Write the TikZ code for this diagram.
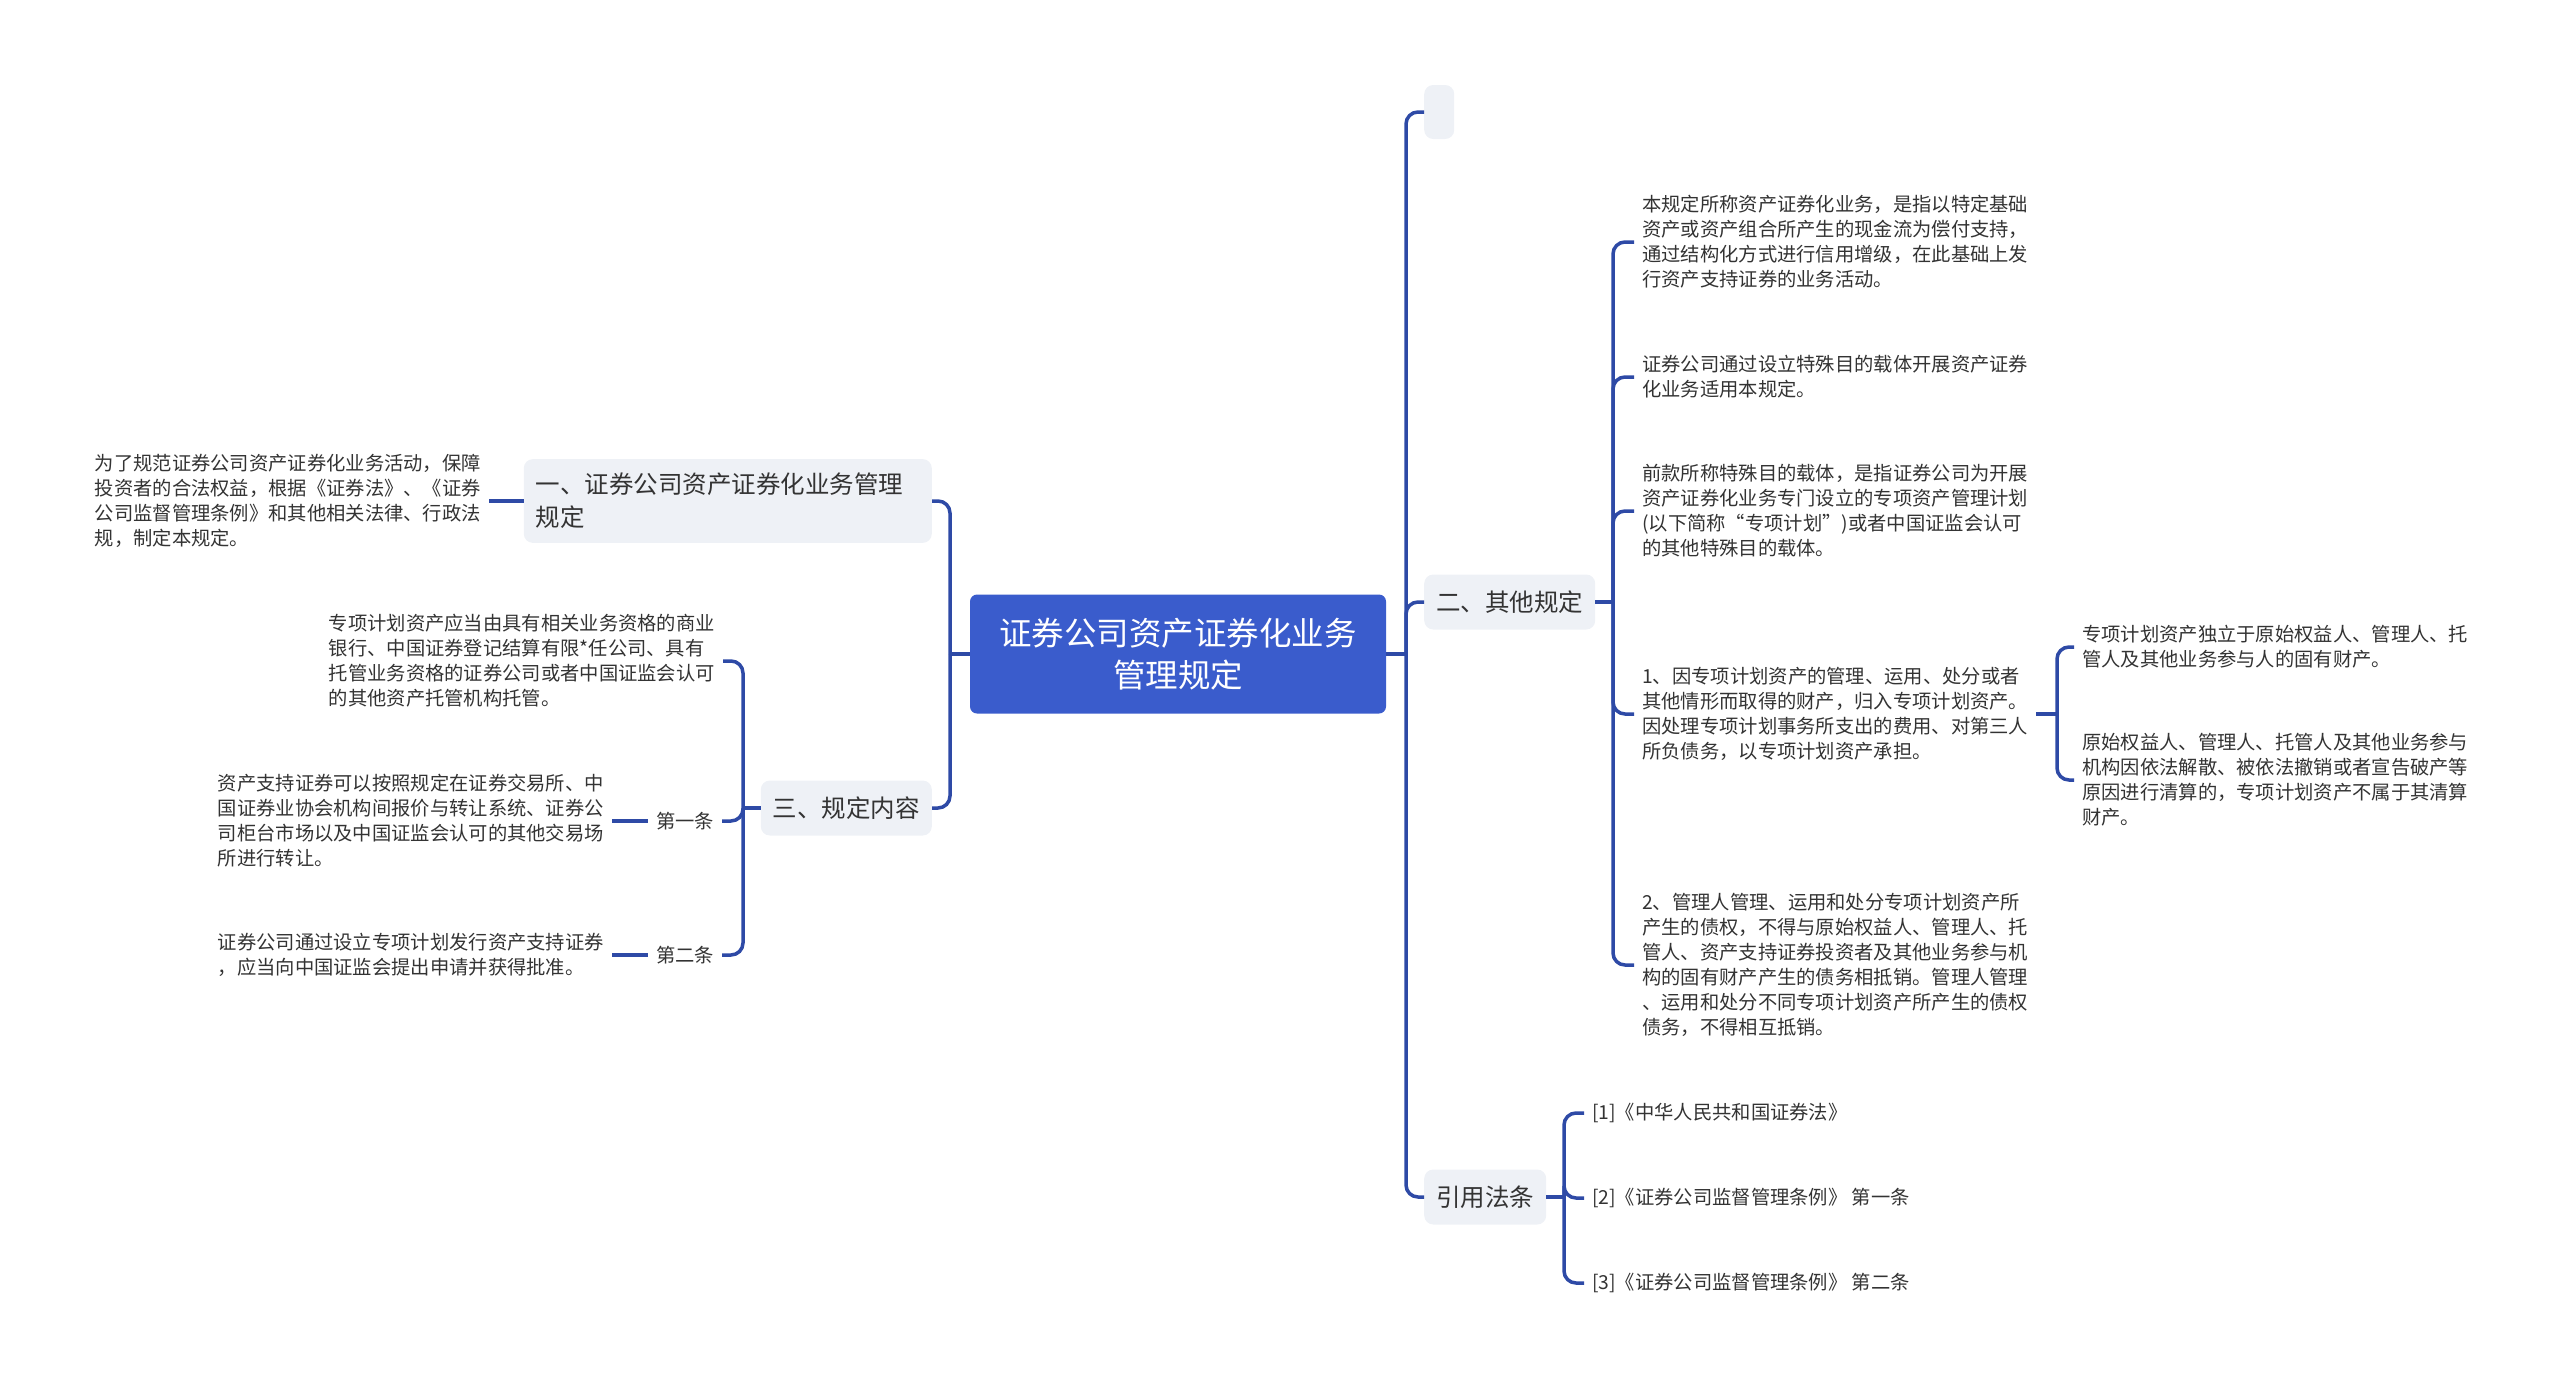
\documentclass[tikz,border=0pt]{standalone}
\usepackage{fontspec}
\setmainfont{Noto Sans CJK SC}
\definecolor{rootblue}{RGB}{58,92,204}
\definecolor{linkblue}{RGB}{46,74,166}
\definecolor{topicgrey}{RGB}{238,241,246}
\definecolor{inkgrey}{RGB}{51,51,51}

\begin{document}
\begin{tikzpicture}[x=1pt,y=-1pt,
	root/.style={fill=rootblue,text=white,rounded corners=7pt,align=center,minimum width=416pt,minimum height=119pt,font=\fontsize{32.5}{42}\selectfont},
	topic/.style={fill=topicgrey,text=inkgrey,rounded corners=9pt,align=left,inner xsep=12pt,minimum height=55pt,font=\fontsize{24.5}{33}\selectfont},
	leaf/.style={text=inkgrey,align=left,inner xsep=8pt,inner ysep=3pt,font=\fontsize{19.3}{25}\selectfont},
	link/.style={draw=linkblue,line width=3.5pt,rounded corners=12pt}]
	\useasboundingbox (0,0) rectangle (2560,1387);
	\node[root] (root) at (1178,654) {证券公司资产证券化业务\\管理规定};

	\node[topic,anchor=east,text width=384pt,inner ysep=14pt] (t1) at (932,501) {一、证券公司资产证券化业务管理\\规定};
	\node[leaf,anchor=east] (l1) at (489,501) {为了规范证券公司资产证券化业务活动，保障\\投资者的合法权益，根据《证券法》、《证券\\公司监督管理条例》和其他相关法律、行政法\\规，制定本规定。};
	\node[topic,anchor=east] (t3) at (932,808) {三、规定内容};
	\node[leaf,anchor=east] (a1) at (723,661) {专项计划资产应当由具有相关业务资格的商业\\银行、中国证券登记结算有限*任公司、具有\\托管业务资格的证券公司或者中国证监会认可\\的其他资产托管机构托管。};
	\node[leaf] (k1) at (685,821) {第一条};
	\node[leaf,anchor=east] (a2) at (612,821) {资产支持证券可以按照规定在证券交易所、中\\国证券业协会机构间报价与转让系统、证券公\\司柜台市场以及中国证监会认可的其他交易场\\所进行转让。};
	\node[leaf] (k2) at (685,955) {第二条};
	\node[leaf,anchor=east] (a3) at (612,955) {证券公司通过设立专项计划发行资产支持证券\\，应当向中国证监会提出申请并获得批准。};

	\node[topic,anchor=west,minimum width=30pt,inner xsep=0pt,minimum height=54pt] (t0) at (1424,112) {};
	\node[topic,anchor=west] (t2) at (1424,602) {二、其他规定};
	\node[topic,anchor=west] (t4) at (1424,1197) {引用法条};
	\node[leaf,anchor=west] (c1) at (1634,242) {本规定所称资产证券化业务，是指以特定基础\\资产或资产组合所产生的现金流为偿付支持，\\通过结构化方式进行信用增级，在此基础上发\\行资产支持证券的业务活动。};
	\node[leaf,anchor=west] (c2) at (1634,377) {证券公司通过设立特殊目的载体开展资产证券\\化业务适用本规定。};
	\node[leaf,anchor=west] (c3) at (1634,511) {前款所称特殊目的载体，是指证券公司为开展\\资产证券化业务专门设立的专项资产管理计划\\(以下简称“专项计划”)或者中国证监会认可\\的其他特殊目的载体。};
	\node[leaf,anchor=west] (c4) at (1634,714) {1、因专项计划资产的管理、运用、处分或者\\其他情形而取得的财产，归入专项计划资产。\\因处理专项计划事务所支出的费用、对第三人\\所负债务，以专项计划资产承担。};
	\node[leaf,anchor=west] (c5) at (1634,965) {2、管理人管理、运用和处分专项计划资产所\\产生的债权，不得与原始权益人、管理人、托\\管人、资产支持证券投资者及其他业务参与机\\构的固有财产产生的债务相抵销。管理人管理\\、运用和处分不同专项计划资产所产生的债权\\债务，不得相互抵销。};
	\node[leaf,anchor=west] (g1) at (2074,647) {专项计划资产独立于原始权益人、管理人、托\\管人及其他业务参与人的固有财产。};
	\node[leaf,anchor=west] (g2) at (2074,780) {原始权益人、管理人、托管人及其他业务参与\\机构因依法解散、被依法撤销或者宣告破产等\\原因进行清算的，专项计划资产不属于其清算\\财产。};
	\node[leaf,anchor=west] (r1) at (1584,1113) {[1]《中华人民共和国证券法》};
	\node[leaf,anchor=west] (r2) at (1584,1198) {[2]《证券公司监督管理条例》 第一条};
	\node[leaf,anchor=west] (r3) at (1584,1283) {[3]《证券公司监督管理条例》 第二条};

	\coordinate (jl) at (950,654);
	\coordinate (jr) at (1406,654);
	\coordinate (j3) at (743,808);
	\coordinate (j2) at (1613,602);
	\coordinate (j24) at (2057,714);
	\coordinate (j4) at (1564,1197);

	\draw[link] (root.west) -- (jl);
	\foreach \n in {t1,t3} \draw[link] (jl) |- (\n.east);
	\draw[link] (t1.west) -- (l1.east);
	\draw[link] (t3.west) -- (j3);
	\foreach \n in {a1,k1,k2} \draw[link] (j3) |- (\n.east);
	\draw[link] (k1.west) -- (a2.east);
	\draw[link] (k2.west) -- (a3.east);

	\draw[link] (root.east) -- (jr);
	\foreach \n in {t0,t2,t4} \draw[link] (jr) |- (\n.west);
	\draw[link] (t2.east) -- (j2);
	\foreach \n in {c1,c2,c3,c4,c5} \draw[link] (j2) |- (\n.west);
	\draw[link] (c4.east) -- (j24);
	\foreach \n in {g1,g2} \draw[link] (j24) |- (\n.west);
	\draw[link] (t4.east) -- (j4);
	\foreach \n in {r1,r2,r3} \draw[link] (j4) |- (\n.west);
\end{tikzpicture}
\end{document}
